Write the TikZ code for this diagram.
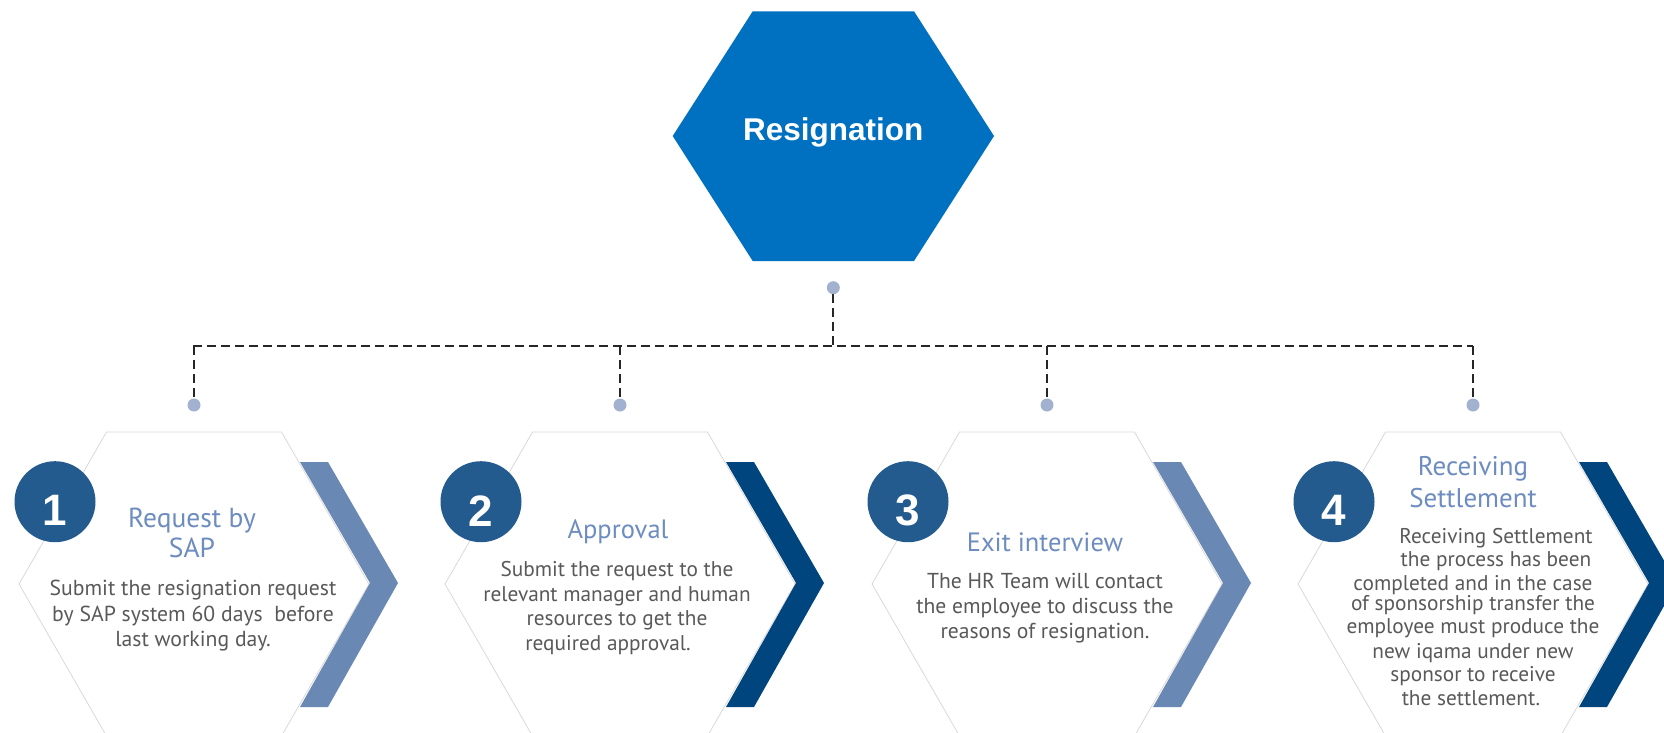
\documentclass[tikz,border=0pt]{standalone}
\usepackage{fontspec}
\setmainfont{PT Sans}
\newfontfamily\arialfont{Liberation Sans}
\definecolor{topblue}{HTML}{0070C0}
\definecolor{hexgray}{HTML}{D9D9D9}
\definecolor{chevlight}{HTML}{6A88B4}
\definecolor{chevdark}{HTML}{00457E}
\definecolor{circblue}{HTML}{235B8E}
\definecolor{dotblue}{HTML}{A2B1D0}
\definecolor{titleblue}{HTML}{6D8CC0}
\definecolor{bodygray}{HTML}{595959}
\begin{document}
\begin{tikzpicture}[x=1pt,y=-1pt,
  hexline/.style={draw=hexgray, line width=0.8pt, fill=white},
  chevA/.style={fill=chevlight},
  chevB/.style={fill=chevdark},
  numcirc/.style={circle, fill=circblue, minimum size=81pt, inner sep=0pt},
  numtxt/.style={text=white, inner sep=0pt, font=\arialfont\bfseries\fontsize{44}{44}\selectfont},
  dotsty/.style={circle, fill=dotblue, minimum size=13pt, inner sep=0pt},
  dashline/.style={draw=black!85, line width=2pt, dash pattern=on 9pt off 5pt},
  titlesty/.style={text=titleblue, align=center, anchor=base, inner sep=0pt, font=\fontsize{27}{30.5}\selectfont},
  bodysty/.style={text=bodygray, align=center, anchor=base, inner sep=0pt, font=\fontsize{21.5}{25}\selectfont},
  maintxt/.style={text=white, inner sep=0pt, font=\arialfont\bfseries\fontsize{31.5}{31.5}\selectfont}
]
\useasboundingbox (0,0) rectangle (1664,732);
\clip (0,0) rectangle (1664,732);

% top hexagon
\fill[topblue] (672.7,136) -- (752.7,11.3) -- (914,11.3) -- (994,136) -- (914,261) -- (752.7,261) -- cycle;
\node[maintxt] (res) at (833.3,132.5) {Resignation};

% lower panels: hexagon, chevron, circle
\foreach \cx/\ch/\n [count=\i] in {194/chevA/1, 620/chevB/2, 1047/chevA/3, 1473/chevB/4}{
  \path[hexline] (\cx-175,584) -- (\cx-87.5,432) -- (\cx+87.5,432) -- (\cx+175,584) -- (\cx+87.5,736) -- (\cx-87.5,736) -- cycle;
  \path[\ch] (\cx+106,462) -- (\cx+134,462) -- (\cx+204,583) -- (\cx+134,707) -- (\cx+106,707) -- (\cx+176,583) -- cycle;
  \node[numcirc] (c\i) at (\cx-139,501.7) {};
  \node[numtxt] (n\i) at ([yshift=-9pt]c\i.center) {\n};
  \node[dotsty] (d\i) at (\cx,405) {};
}

% connectors
\node[dotsty] (topdot) at (833.3,287.7) {};
\coordinate (busL) at (193,346);
\coordinate (busR) at (1473,346);
\draw[dashline] (busL) -- (busR);
\draw[dashline] (topdot.south) -- (topdot |- busL);
\foreach \i in {1,2,3,4}{
  \draw[dashline] (d\i |- busL) -- (d\i.north);
}

% texts (anchor base = baseline of the last line)
\node[titlesty, font=\fontsize{27.5}{30.7}\selectfont] (t1) at (192,557.7) {Request by\\SAP};
\node[bodysty, font=\fontsize{21.7}{25.5}\selectfont] (b1) at (193,646.7) {Submit the resignation request\\by SAP system 60 days\ \ before\\last working day.};

\node[titlesty, font=\fontsize{26.5}{30}\selectfont] (t2) at (618,538) {Approval};
\node[bodysty, font=\fontsize{21.3}{24.5}\selectfont] (b2) at (617,650) {Submit the request to the\\relevant manager and human\\resources to get the\\\hspace*{-18pt}required approval.};

\node[titlesty, font=\fontsize{26.5}{30}\selectfont] (t3) at (1045,551.7) {Exit interview};
\node[bodysty, font=\fontsize{21.6}{25}\selectfont] (b3) at (1045,638) {The HR Team will contact\\the employee to discuss the\\reasons of resignation.};

\node[titlesty, font=\fontsize{27}{32.3}\selectfont] (t4) at (1473,507.3) {Receiving\\Settlement};
\node[bodysty, font=\fontsize{21.3}{23.3}\selectfont] (b4) at (1473,705) {\hspace*{46pt}Receiving Settlement\\\hspace*{46pt}the process has been\\completed and in the case\\[-3.3pt]of sponsorship transfer the\\employee must produce the\\[1.7pt]new iqama under new\\sponsor to receive\\\hspace*{-4pt}the settlement.};
\end{tikzpicture}
\end{document}
